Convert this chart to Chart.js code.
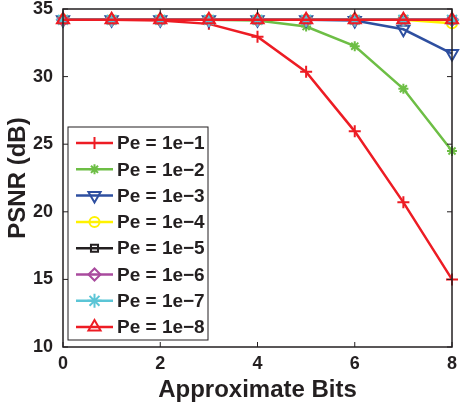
<!DOCTYPE html>
<html>
<head>
<meta charset="utf-8">
<script src="https://cdn.jsdelivr.net/npm/chart.js@4"></script>
<style>
  html, body { margin: 0; padding: 0; background: #fff; }
  #c { display: block; }
</style>
</head>
<body>
<canvas id="c" width="461" height="402"></canvas>
<script>
var bits = [0, 1, 2, 3, 4, 5, 6, 7, 8];
var labels = ['Pe = 1e\u22121', 'Pe = 1e\u22122', 'Pe = 1e\u22123', 'Pe = 1e\u22124',
              'Pe = 1e\u22125', 'Pe = 1e\u22126', 'Pe = 1e\u22127', 'Pe = 1e\u22128'];
var pe1 = [34.2, 34.2, 34.15, 33.9, 32.95, 30.35, 25.95, 20.7, 15.0];
var pe2 = [34.2, 34.2, 34.2, 34.2, 34.15, 33.7, 32.25, 29.1, 24.5];
var pe3 = [34.2, 34.2, 34.2, 34.2, 34.2, 34.2, 34.15, 33.5, 31.7];
var pe4 = [34.2, 34.2, 34.2, 34.2, 34.2, 34.2, 34.2, 34.2, 33.95];
var pe5 = [34.2, 34.2, 34.2, 34.2, 34.2, 34.2, 34.2, 34.2, 34.2];
var pe6 = [34.2, 34.2, 34.2, 34.2, 34.2, 34.2, 34.2, 34.2, 34.2];
var pe7 = [34.2, 34.2, 34.2, 34.2, 34.2, 34.2, 34.2, 34.2, 34.2];
var pe8 = [34.2, 34.2, 34.2, 34.2, 34.2, 34.2, 34.2, 34.2, 34.2];
var xTicks = [0, 2, 4, 6, 8];
var yTicks = [10, 15, 20, 25, 30, 35];

var series = [pe1, pe2, pe3, pe4, pe5, pe6, pe7, pe8];
var colors = ['#ED1C24', '#6DBE45', '#2E4FA0', '#FFF200', '#231F20', '#A94B9E', '#5BC5D6', '#ED1C24'];
var styles = ['cross', 'star', 'triangle', 'circle', 'rect', 'rectRot', 'star', 'triangle'];
var rotations = [0, 0, 180, 0, 0, 0, 0, 0];
var radii = [6, 5, 7, 5, 5, 6, 7, 7];

function pts(vals) {
    return bits.map(function (b, i) { return { x: b, y: vals[i] }; });
}

var datasets = series.map(function (vals, i) {
    return {
        label: labels[i],
        data: pts(vals),
        borderColor: colors[i],
        backgroundColor: 'rgba(0,0,0,0)',
        borderWidth: 2.5,
        pointStyle: styles[i],
        pointRotation: rotations[i],
        pointRadius: radii[i],
        pointBorderWidth: 2,
        pointBorderColor: colors[i],
        pointBackgroundColor: 'rgba(0,0,0,0)',
        clip: 12,
        order: 8 - i
    };
});

// box, inward ticks and legend drawn on top
var framePlugin = {
    id: 'frame',
    afterDraw: function (chart) {
        var ctx = chart.ctx, a = chart.chartArea;
        var xs = chart.scales.x, ys = chart.scales.y;
        ctx.save();
        ctx.strokeStyle = '#231F20';
        ctx.lineWidth = 1.5;
        ctx.strokeRect(a.left, a.top, a.right - a.left, a.bottom - a.top);
        ctx.lineWidth = 1;
        ctx.beginPath();
        xTicks.forEach(function (t) {
            var px = xs.getPixelForValue(t);
            ctx.moveTo(px, a.bottom); ctx.lineTo(px, a.bottom - 5);
            ctx.moveTo(px, a.top); ctx.lineTo(px, a.top + 5);
        });
        yTicks.forEach(function (t) {
            var py = ys.getPixelForValue(t);
            ctx.moveTo(a.left, py); ctx.lineTo(a.left + 5, py);
            ctx.moveTo(a.right, py); ctx.lineTo(a.right - 5, py);
        });
        ctx.stroke();

        // legend
        var lx = 68, ly = 127, lw = 140, lh = 213, step = 26.3;
        ctx.fillStyle = '#fff';
        ctx.fillRect(lx, ly, lw, lh);
        ctx.strokeStyle = '#231F20';
        ctx.lineWidth = 1;
        ctx.strokeRect(lx, ly, lw, lh);
        ctx.font = 'bold 19px "Liberation Sans", Arial, sans-serif';
        ctx.textBaseline = 'middle';
        ctx.textAlign = 'left';
        chart.data.datasets.forEach(function (ds, i) {
            var y = 143 + i * step;
            ctx.strokeStyle = ds.borderColor;
            ctx.lineWidth = 2.5;
            ctx.beginPath();
            ctx.moveTo(76, y); ctx.lineTo(113, y);
            ctx.stroke();
            ctx.lineWidth = 2;
            ctx.fillStyle = 'rgba(0,0,0,0)';
            Chart.helpers.drawPoint(ctx, {
                pointStyle: ds.pointStyle,
                radius: ds.pointRadius,
                rotation: ds.pointRotation,
                borderWidth: 2
            }, 94.5, y);
            ctx.fillStyle = '#231F20';
            ctx.fillText(ds.label, 117, y + 1);
        });
        ctx.restore();
    }
};

var font = '"Liberation Sans", Arial, sans-serif';

var chart = new Chart(document.getElementById('c'), {
    type: 'line',
    data: { datasets: datasets },
    options: {
        responsive: false,
        animation: false,
        layout: { padding: { top: 8, right: 5, left: 0, bottom: 0 } },
        plugins: { legend: { display: false }, tooltip: { enabled: false } },
        scales: {
            x: {
                type: 'linear',
                min: 0,
                max: 8,
                afterFit: function (s) { s.height = 55; s.paddingLeft = 0; s.paddingRight = 0; },
                afterBuildTicks: function (s) { s.ticks = xTicks.map(function (v) { return { value: v }; }); },
                grid: { display: false },
                border: { display: false },
                ticks: { color: '#231F20', padding: -2, font: { family: font, size: 18, weight: 'bold' } },
                title: {
                    display: true,
                    text: 'Approximate Bits',
                    color: '#231F20',
                    padding: { top: 0, bottom: 0 },
                    font: { family: font, size: 24, weight: 'bold', lineHeight: 1 }
                }
            },
            y: {
                min: 10,
                max: 35,
                afterFit: function (s) { s.width = 63; s.paddingTop = 0; s.paddingBottom = 0; },
                afterBuildTicks: function (s) { s.ticks = yTicks.map(function (v) { return { value: v }; }); },
                grid: { display: false },
                border: { display: false },
                ticks: { color: '#231F20', padding: 2, font: { family: font, size: 18, weight: 'bold' } },
                title: {
                    display: true,
                    text: 'PSNR (dB)',
                    color: '#231F20',
                    padding: { top: 4, bottom: 0 },
                    font: { family: font, size: 24, weight: 'bold' }
                }
            }
        }
    },
    plugins: [framePlugin]
});
</script>
</body>
</html>
